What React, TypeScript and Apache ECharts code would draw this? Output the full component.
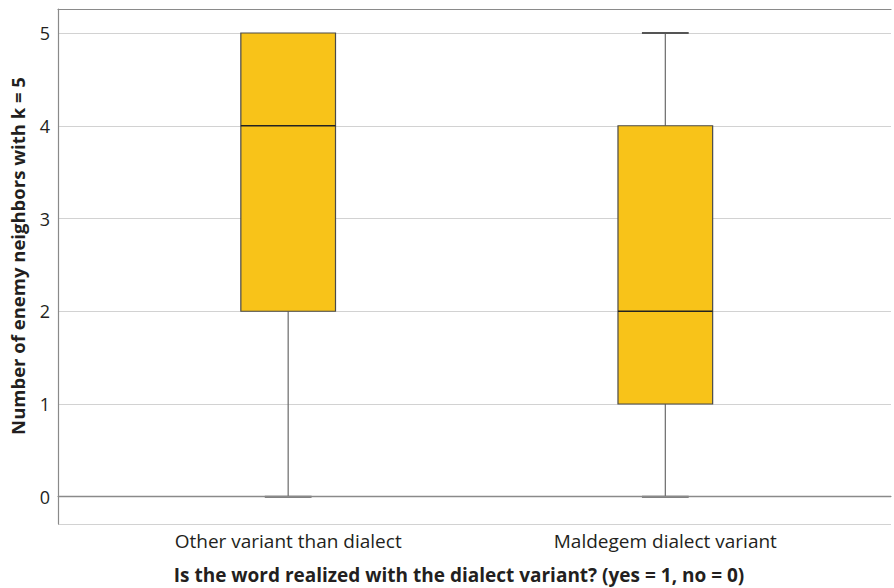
import React, { useEffect, useRef } from "react";
import * as echarts from "echarts";

const categories = ["Other variant than dialect", "Maldegem dialect variant"];
const positions = [1, 2];
const mins = [0, 0];
const q1s = [2, 1];
const medians = [4, 2];
const q3s = [5, 4];
const maxs = [5, 5];
const yTickLabels = ["0", "1", "2", "3", "4", "5"];

const FONT = "'Open Sans', 'Noto Sans', sans-serif";
const TEXT = "#231f20";

export default function App() {
  const ref = useRef<HTMLDivElement>(null);
  useEffect(() => {
    if (!ref.current) return;
    const chart = echarts.init(ref.current, null, { renderer: "svg" });
    const data = positions.map((p, i) => [p, mins[i], q1s[i], medians[i], q3s[i], maxs[i]]);
    const boxW = 0.251;
    const capW = 0.124;
    const renderItem = (params: any, api: any) => {
      const x = api.value(0);
      const mn = api.value(1), a = api.value(2), md = api.value(3), b = api.value(4), mx = api.value(5);
      const bw = api.size([boxW, 0])[0];
      const cw = api.size([capW, 0])[0];
      const pMin = api.coord([x, mn]);
      const pQ1 = api.coord([x, a]);
      const pMd = api.coord([x, md]);
      const pQ3 = api.coord([x, b]);
      const pMax = api.coord([x, mx]);
      const children: any[] = [];
      const whisk = { stroke: "#6a6a6a", lineWidth: 1.2 };
      const cap = { stroke: "#555", lineWidth: 2 };
      if (mx > b) {
        children.push({ type: "line", shape: { x1: pMax[0], y1: pMax[1], x2: pQ3[0], y2: pQ3[1] }, style: whisk });
        children.push({ type: "line", shape: { x1: pMax[0] - cw / 2, y1: pMax[1], x2: pMax[0] + cw / 2, y2: pMax[1] }, style: cap });
      }
      if (mn < a) {
        children.push({ type: "line", shape: { x1: pMin[0], y1: pMin[1], x2: pQ1[0], y2: pQ1[1] }, style: whisk });
        children.push({ type: "line", shape: { x1: pMin[0] - cw / 2, y1: pMin[1], x2: pMin[0] + cw / 2, y2: pMin[1] }, style: cap });
      }
      children.push({
        type: "rect",
        shape: { x: pQ3[0] - bw / 2, y: pQ3[1], width: bw, height: pQ1[1] - pQ3[1] },
        style: { fill: "#F8C319", stroke: "#4a4a4a", lineWidth: 1.2 },
      });
      children.push({
        type: "line",
        shape: { x1: pMd[0] - bw / 2, y1: pMd[1], x2: pMd[0] + bw / 2, y2: pMd[1] },
        style: { stroke: "#222", lineWidth: 1.6 },
      });
      return { type: "group", children };
    };
    const option: any = {
      animation: false,
      grid: { left: 58, right: 0, top: 9, bottom: 64, containLabel: false },
      xAxis: [
        {
          type: "value",
          min: 0.3897,
          max: 2.5984,
          position: "bottom",
          axisLine: { show: true, lineStyle: { color: "#8a8a8a", width: 1.2 } },
          axisTick: { show: false },
          splitLine: { show: false },
          axisLabel: {
            margin: 7,
            color: TEXT,
            fontFamily: FONT,
            fontSize: 19,
            showMinLabel: true,
            showMaxLabel: true,
            formatter: (v: number) => {
              const idx = positions.indexOf(v);
              return idx >= 0 ? categories[idx] : "";
            },
          },
        },
        {
          type: "value",
          min: 0.3897,
          max: 2.5984,
          position: "top",
          axisLine: { show: true, lineStyle: { color: "#8a8a8a", width: 1.2 } },
          axisTick: { show: false },
          splitLine: { show: false },
          axisLabel: { show: false },
        },
      ],
      yAxis: {
        type: "value",
        min: -0.294,
        max: 5.259,
        splitNumber: 5,
        axisLine: { show: true, lineStyle: { color: "#8a8a8a", width: 1.2 } },
        axisTick: { show: false },
        splitLine: { show: true, lineStyle: { color: "#d2d2d2", width: 1.2 } },
        axisLabel: {
          margin: 8,
          color: TEXT,
          fontFamily: FONT,
          fontSize: 18,
          showMinLabel: true,
          showMaxLabel: true,
          formatter: (v: number) => {
            const s = String(v);
            return yTickLabels.indexOf(s) >= 0 ? s : "";
          },
        },
      },
      graphic: [
        {
          type: "text",
          x: 459,
          y: 575,
          style: {
            text: "Is the word realized with the dialect variant? (yes = 1, no = 0)",
            fill: TEXT,
            font: `bold 19px ${FONT}`,
            textAlign: "center",
            textVerticalAlign: "middle",
          },
        },
        {
          type: "text",
          x: 17,
          y: 256,
          rotation: Math.PI / 2,
          style: {
            text: "Number of enemy neighbors with k = 5",
            fill: TEXT,
            font: `bold 18.5px ${FONT}`,
            textAlign: "center",
            textVerticalAlign: "middle",
          },
        },
      ],
      series: [
        {
          type: "custom",
          xAxisIndex: 0,
          yAxisIndex: 0,
          renderItem,
          data,
          markLine: {
            silent: true,
            symbol: "none",
            label: { show: false },
            lineStyle: { color: "#8a8a8a", width: 1.3, type: "solid" },
            data: [{ yAxis: 0 }],
          },
          z: 3,
        },
      ],
    };
    chart.setOption(option);
    return () => chart.dispose();
  }, []);
  return (
    <div
      ref={ref}
      style={{ position: "absolute", left: 0, top: 0, width: 894, height: 588, overflow: "hidden" }}
    />
  );
}
